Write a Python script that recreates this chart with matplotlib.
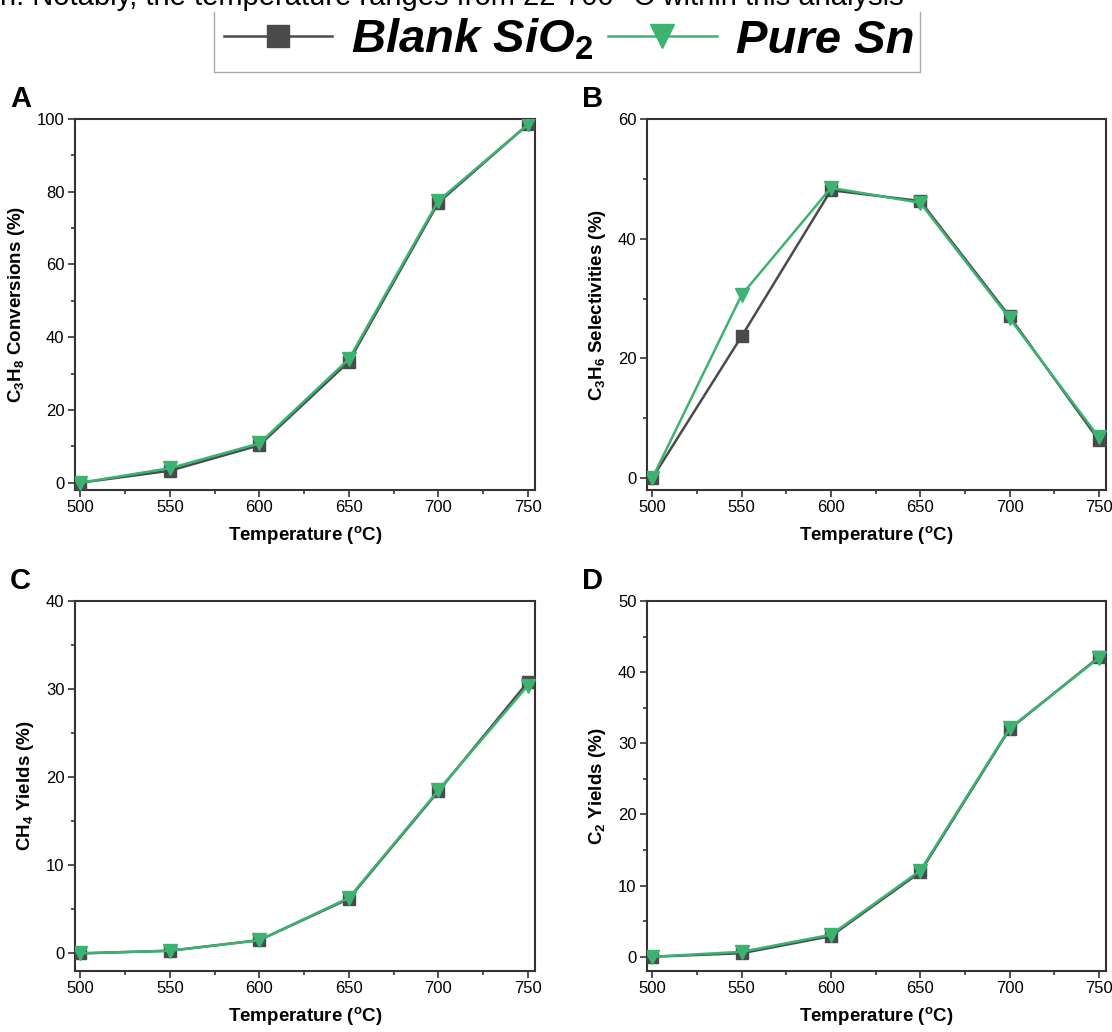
import matplotlib
matplotlib.use('Agg')
import matplotlib.pyplot as plt
from matplotlib.lines import Line2D
from matplotlib.ticker import MultipleLocator

# ----------------------------
# Data
# ----------------------------
temps = [500, 550, 600, 650, 700, 750]

conv_blank = [0, 3.3, 10.3, 33.3, 77.0, 98.5]
conv_sn = [0, 4.0, 10.8, 34.0, 77.5, 98.5]

sel_blank = [0, 23.7, 48.1, 46.3, 27.0, 6.3]
sel_sn = [0, 30.6, 48.5, 46.0, 26.7, 6.8]

ch4_blank = [0, 0.3, 1.5, 6.2, 18.4, 30.8]
ch4_sn = [0, 0.3, 1.5, 6.3, 18.5, 30.4]

c2_blank = [0, 0.5, 2.9, 11.9, 32.0, 42.1]
c2_sn = [0, 0.7, 3.1, 12.1, 32.1, 42.0]

series_labels = [r'Blank SiO$_\mathbf{2}$', 'Pure Sn']
ylabels = [r'C$_\mathbf{3}$H$_\mathbf{8}$ Conversions (%)',
           r'C$_\mathbf{3}$H$_\mathbf{6}$ Selectivities (%)',
           r'CH$_\mathbf{4}$ Yields (%)',
           r'C$_\mathbf{2}$ Yields (%)']
panel_letters = ['A', 'B', 'C', 'D']
y_tops = [100, 60, 40, 50]
y_steps = [20, 20, 10, 10]

GREY = '#4a4a4a'
GREEN = '#3cb371'
SPINE = '#333333'

plt.rcParams['font.family'] = ['Liberation Sans', 'DejaVu Sans']
plt.rcParams['mathtext.fontset'] = 'custom'
plt.rcParams['mathtext.rm'] = 'Liberation Sans'
plt.rcParams['mathtext.bf'] = 'Liberation Sans:bold'
plt.rcParams['mathtext.it'] = 'Liberation Sans:italic'

W, H = 1112, 1032
fig = plt.figure(figsize=(W / 100, H / 100), dpi=100)


def px_axes(left, top, right, bottom):
    return fig.add_axes([left / W, 1 - bottom / H, (right - left) / W, (bottom - top) / H])


boxes = [(75, 119, 535, 490), (647, 119, 1106, 490),
         (75, 601, 535, 971), (647, 601, 1106, 971)]
data = [(conv_blank, conv_sn), (sel_blank, sel_sn),
        (ch4_blank, ch4_sn), (c2_blank, c2_sn)]

lines = None
for i, (box, (blank, sn)) in enumerate(zip(boxes, data)):
    ax = px_axes(*box)
    l1, = ax.plot(temps, blank, color=GREY, lw=1.8, marker='s', ms=9, zorder=3)
    l2, = ax.plot(temps, sn, color=GREEN, lw=1.8, marker='v', ms=10, zorder=4)
    lines = (l1, l2)
    ax.set_xlim(497, 754)
    ax.set_ylim(-2, y_tops[i])
    ax.xaxis.set_major_locator(MultipleLocator(50))
    ax.xaxis.set_minor_locator(MultipleLocator(25))
    ax.yaxis.set_major_locator(MultipleLocator(y_steps[i]))
    ax.yaxis.set_minor_locator(MultipleLocator(y_steps[i] / 2))
    ax.tick_params(which='both', direction='out', colors=SPINE, labelcolor='black',
                   labelsize=12, width=1.2, pad=2.5)
    ax.tick_params(which='major', length=5)
    ax.tick_params(which='minor', length=3)
    for sp in ax.spines.values():
        sp.set_color(SPINE)
        sp.set_linewidth(1.5)
    ax.set_xlabel(r'Temperature ($^\mathbf{o}$C)', fontsize=13.5, fontweight='bold', labelpad=6)
    ax.set_ylabel(ylabels[i], fontsize=13.5, fontweight='bold', labelpad=7)
    fig.text((box[0] - 65) / W, 1 - (box[1] - 12) / H, panel_letters[i],
             fontsize=21, fontweight='bold', va='baseline', ha='left')

# clipped caption line at the very top
fig.text(0.0, 1 - 5 / H,
         'h. Notably, the temperature ranges from 22-700 \u00b0C within this analysis',
         fontsize=21, va='baseline', ha='left')

leg = fig.legend(lines, series_labels, loc='center',
                 bbox_to_anchor=(569 / W, 1 - 40 / H), ncol=2,
                 prop={'size': 34, 'weight': 'bold', 'style': 'italic'},
                 frameon=False, handlelength=2.3,
                 handletextpad=0.4, columnspacing=0.3, borderaxespad=0,
                 markerscale=1.7)

# legend frame: its top edge is cropped off in the source image
frame_x = [214 / W, 214 / W, 920 / W, 920 / W]
frame_y = [1 - 12 / H, 1 - 72 / H, 1 - 72 / H, 1 - 12 / H]
fig.add_artist(Line2D(frame_x, frame_y, transform=fig.transFigure,
                      color='#aaaaaa', lw=1.0))

fig.savefig('out.png', dpi=100)
